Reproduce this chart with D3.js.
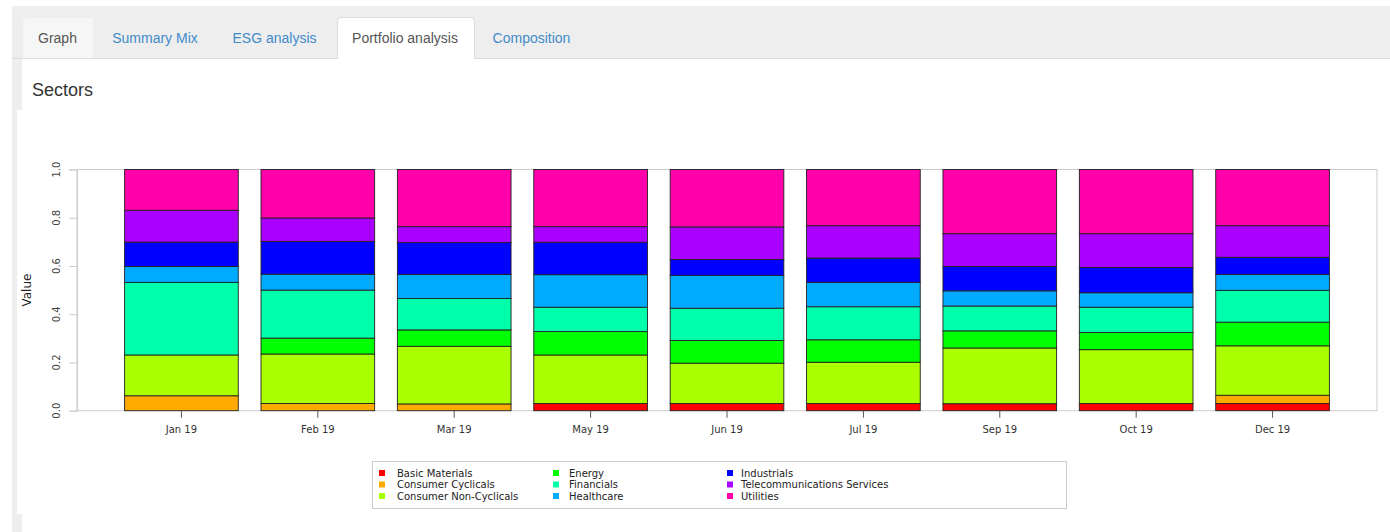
<!DOCTYPE html>
<html>
<head>
<meta charset="utf-8">
<script src="https://cdn.jsdelivr.net/npm/d3@7"></script>
<style>
  html, body { margin: 0; padding: 0; background: #ffffff; }
  svg { display: block; }
</style>
</head>
<body>
<svg id="chart" width="1390" height="532"></svg>
<script>
// ---------- data ----------
const months = ["Jan 19", "Feb 19", "Mar 19", "May 19", "Jun 19", "Jul 19", "Sep 19", "Oct 19", "Dec 19"];
const sectors = ["Basic Materials", "Consumer Cyclicals", "Consumer Non-Cyclicals", "Energy", "Financials",
                 "Healthcare", "Industrials", "Telecommunications Services", "Utilities"];
const basicMaterials       = [0,     0,     0,     0.030, 0.030, 0.030, 0.029, 0.030, 0.030];
const consumerCyclicals    = [0.062, 0.030, 0.028, 0,     0,     0,     0,     0,     0.034];
const consumerNonCyclicals = [0.169, 0.205, 0.239, 0.201, 0.167, 0.171, 0.231, 0.223, 0.205];
const energy               = [0,     0.066, 0.068, 0.097, 0.094, 0.093, 0.071, 0.071, 0.098];
const financials           = [0.301, 0.199, 0.130, 0.101, 0.134, 0.137, 0.103, 0.105, 0.132];
const healthcare           = [0.066, 0.066, 0.100, 0.135, 0.136, 0.101, 0.063, 0.060, 0.066];
const industrials          = [0.101, 0.136, 0.132, 0.134, 0.066, 0.101, 0.101, 0.105, 0.071];
const telecom              = [0.132, 0.097, 0.066, 0.065, 0.135, 0.134, 0.136, 0.140, 0.131];
const utilities            = [0.169, 0.201, 0.237, 0.237, 0.238, 0.233, 0.266, 0.266, 0.233];
const yTicks = [0, 0.2, 0.4, 0.6, 0.8, 1.0];
const tabs = ["Graph", "Summary Mix", "ESG analysis", "Portfolio analysis", "Composition"];

const seriesValues = [basicMaterials, consumerCyclicals, consumerNonCyclicals, energy, financials,
                      healthcare, industrials, telecom, utilities];
const colors = ["#FF0000", "#FFAA00", "#AAFF00", "#00FF00", "#00FFAA", "#00AAFF", "#0000FF", "#AA00FF", "#FF00AA"];

const table = months.map((m, i) => {
  const row = { month: m };
  sectors.forEach((s, j) => row[s] = seriesValues[j][i]);
  return row;
});

const svg = d3.select("#chart");

// ---------- page chrome ----------
svg.append("rect").attr("x", 12).attr("y", 6).attr("width", 1378).attr("height", 526).attr("fill", "#eeeeee");
svg.append("rect").attr("x", 22).attr("y", 59).attr("width", 1368).attr("height", 473).attr("fill", "#ffffff");
svg.append("rect").attr("x", 17).attr("y", 110).attr("width", 1373).attr("height", 404).attr("fill", "#ffffff");
svg.append("line").attr("x1", 12).attr("x2", 1390).attr("y1", 58.5).attr("y2", 58.5)
   .attr("stroke", "#dddddd").attr("stroke-width", 1);

function tabPath(x0, x1, y0, y1, r) {
  return `M${x0},${y1} L${x0},${y0 + r} Q${x0},${y0} ${x0 + r},${y0} L${x1 - r},${y0} Q${x1},${y0} ${x1},${y0 + r} L${x1},${y1}`;
}
// inactive "Graph" tab (lighter)
svg.append("path").attr("d", tabPath(23, 93, 18, 58, 4) + " Z").attr("fill", "#f6f6f6");
// active tab
svg.append("path").attr("d", tabPath(337.5, 474.5, 17.5, 59.5, 4) + " Z").attr("fill", "#ffffff");
svg.append("path").attr("d", tabPath(337.5, 474.5, 17.5, 59, 4)).attr("fill", "none").attr("stroke", "#dddddd");

const tabCenters = [57.5, 155, 274.5, 405, 531.5];
tabs.forEach((t, i) => {
  svg.append("text").attr("x", tabCenters[i]).attr("y", 43)
    .attr("text-anchor", "middle")
    .attr("font-family", "'Liberation Sans', Arial, sans-serif").attr("font-size", 14)
    .attr("fill", (i === 0 || i === 3) ? "#555555" : "#428bca")
    .text(t);
});

svg.append("text").attr("x", 32).attr("y", 96)
  .attr("font-family", "'Liberation Sans', Arial, sans-serif").attr("font-size", 18)
  .attr("fill", "#333333").text("Sectors");

// ---------- chart ----------
const x = d3.scaleBand().domain(months).range([77, 1377]).paddingInner(1 / 6).paddingOuter(0.349);
const y = d3.scaleLinear().domain([0, 1]).range([410.7, 169.5]);

const stack = d3.stack().keys(sectors);
const stacked = stack(table);

// light plot box
svg.append("rect").attr("x", 77).attr("y", y(1)).attr("width", 1300).attr("height", y(0) - y(1))
  .attr("fill", "none").attr("stroke", "#cccccc").attr("stroke-width", 1);

const g = svg.append("g");
stacked.forEach((layer, j) => {
  g.append("g").selectAll("rect")
    .data(layer.filter(d => d[1] - d[0] > 0))
    .join("rect")
    .attr("x", d => x(d.data.month))
    .attr("width", x.bandwidth())
    .attr("y", d => y(d[1]))
    .attr("height", d => y(d[0]) - y(d[1]))
    .attr("fill", colors[j])
    .attr("stroke", "#222222")
    .attr("stroke-width", 0.9);
});

// y axis
const yAxis = d3.axisLeft(y).tickValues(yTicks).tickFormat(d3.format(".1f")).tickSize(8).tickPadding(0);
const ya = svg.append("g").attr("transform", "translate(77,0)").call(yAxis);
ya.select(".domain").attr("stroke", "#cccccc");
ya.selectAll(".tick line").attr("stroke", "#cccccc");
ya.selectAll(".tick text").remove();
yTicks.forEach(v => {
  svg.append("text")
    .attr("transform", `translate(59.5,${y(v)}) rotate(-90)`)
    .attr("text-anchor", "middle")
    .attr("font-family", "'DejaVu Sans', sans-serif").attr("font-size", 10)
    .attr("fill", "#444444")
    .text(d3.format(".1f")(v));
});

svg.append("text")
  .attr("transform", `translate(30.5,${(y(0) + y(1)) / 2}) rotate(-90)`)
  .attr("text-anchor", "middle")
  .attr("font-family", "'DejaVu Sans', sans-serif").attr("font-size", 12)
  .attr("fill", "#222222").text("Value");

// x axis
const xAxis = d3.axisBottom(x).tickSize(7).tickPadding(8);
const xa = svg.append("g").attr("transform", `translate(0,${y(0)})`).call(xAxis);
xa.select(".domain").remove();
xa.selectAll(".tick line").attr("stroke", "#555555");
xa.selectAll(".tick text")
  .attr("font-family", "'DejaVu Sans', sans-serif").attr("font-size", 10)
  .attr("fill", "#333333");

// ---------- legend ----------
svg.append("rect").attr("x", 372.5).attr("y", 461.5).attr("width", 694).attr("height", 47)
  .attr("fill", "#ffffff").attr("stroke", "#cccccc");
const colSquareX = [382, 556, 730];
const colTextX = [397, 569, 741];
const rowY = [473, 484.5, 496];
sectors.forEach((s, i) => {
  const c = Math.floor(i / 3), r = i % 3;
  svg.append("rect").attr("x", colSquareX[c] - 3).attr("y", rowY[r] - 3)
    .attr("width", 6).attr("height", 6).attr("fill", colors[i]);
  svg.append("text").attr("x", colTextX[c]).attr("y", rowY[r] + 3.5)
    .attr("font-family", "'DejaVu Sans', sans-serif").attr("font-size", 10)
    .attr("fill", "#222222").text(s);
});
</script>
</body>
</html>
